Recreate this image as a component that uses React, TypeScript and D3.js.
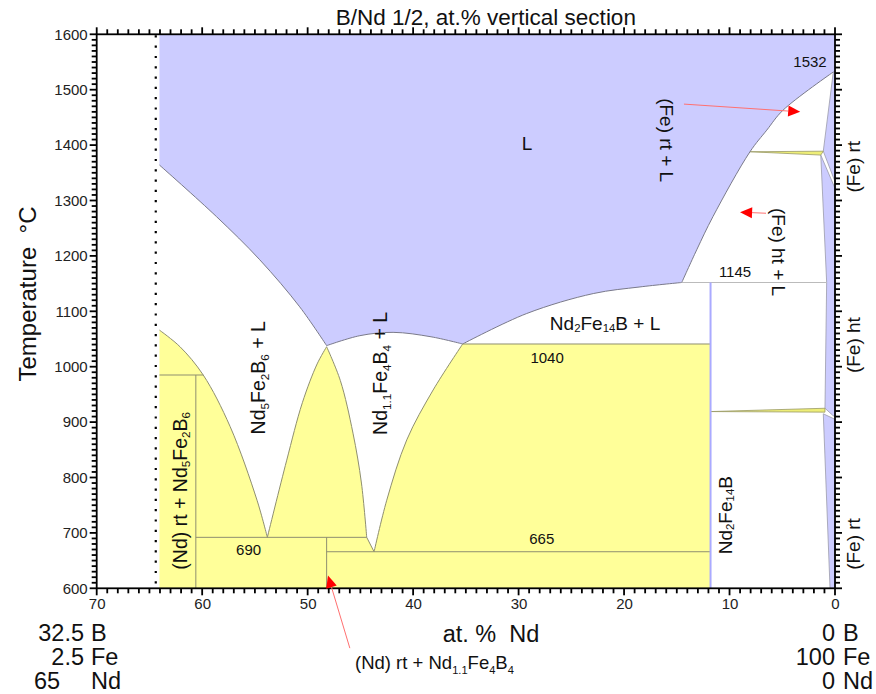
import { useEffect, useRef } from "react";
import * as d3 from "d3";

type Pt = [number, number];

// axis ticks (at.% Nd, °C)
const xTicks = [70, 60, 50, 40, 30, 20, 10, 0];
const yTicks = [600, 700, 800, 900, 1000, 1100, 1200, 1300, 1400, 1500, 1600];

// phase boundaries: [at.% Nd, T °C]
const liquidusLeft: Pt[] = [[64.05, 1364], [58.65, 1271], [54.54, 1193], [50.75, 1108], [48.2, 1038]];
const liquidusDome: Pt[] = [[48.2, 1038], [45.05, 1056], [41.9, 1062], [38.3, 1054], [35.3, 1041]];
const liquidusNd2Fe14B: Pt[] = [[35.3, 1041], [29.23, 1096], [22.92, 1132], [18.49, 1144], [14.53, 1152]];
const liquidusFe: Pt[] = [[14.53, 1152], [13.11, 1211], [11.57, 1271], [8.06, 1388], [6.47, 1427], [4.93, 1463], [0.16, 1532]];

const domeA: Pt[] = [[64.05, 1066], [62.1, 1036], [59.9, 985], [57.35, 892], [54.8, 759], [53.82, 692]];
const domeBLeft: Pt[] = [[53.82, 692], [52.0, 830], [50.5, 935], [49.1, 1005], [48.2, 1036]];
const domeBRight: Pt[] = [[48.2, 1036], [46.9, 975], [45.7, 880], [44.9, 790], [44.4, 692]];
const domeC: Pt[] = [[43.7, 666], [42.5, 759], [40.6, 868], [38.1, 958], [35.3, 1041]];

// tie lines / invariants
const invariants: Pt[][] = [
  [[64.05, 985], [59.9, 985]],
  [[60.6, 985], [60.6, 600]],
  [[60.6, 692], [44.4, 692]],
  [[44.4, 692], [43.7, 666]],
  [[48.2, 692], [48.2, 600]],
  [[48.2, 666], [11.8, 666]],
  [[35.3, 1041], [11.8, 1041]],
];
const peritectic1145: Pt[] = [[14.53, 1152], [0.79, 1152]];
const nd2fe14bLine: Pt[] = [[11.8, 1152], [11.8, 600]];

// (Fe) side
const feRtHigh: Pt[] = [[0.16, 1532], [1.11, 1389], [0, 1334], [0, 1532]];
const feHt: Pt[] = [[1.35, 1382], [0.79, 1152], [0.95, 925], [0.2, 912], [0, 910], [0, 1322]];
const feRtLow: Pt[] = [[1.11, 915], [0.47, 600], [0, 600], [0, 905]];
const sliverHigh: Pt[] = [[8.06, 1388], [1.11, 1389], [1.35, 1382]];
const sliverLow: Pt[] = [[11.8, 919], [0.95, 925], [0.95, 918]];

const dottedX = 64.4;

// labels: text with _{sub}, position (at.% Nd, °C), rotation
const labels = [
  { text: "L", x: 29.2, t: 1404, rot: 0, size: 19 },
  { text: "Nd_{2}Fe_{14}B + L", x: 21.8, t: 1079, rot: 0, size: 19 },
  { text: "1532", x: 2.37, t: 1552, rot: 0, size: 15 },
  { text: "1145", x: 9.48, t: 1173, rot: 0, size: 15 },
  { text: "1040", x: 27.3, t: 1017, rot: 0, size: 15 },
  { text: "665", x: 27.8, t: 691, rot: 0, size: 15 },
  { text: "690", x: 55.6, t: 671, rot: 0, size: 15 },
  { text: "(Nd) rt + Nd_{5}Fe_{2}B_{6}", x: 62.1, t: 776, rot: -90, size: 19.5 },
  { text: "Nd_{5}Fe_{2}B_{6} + L", x: 54.7, t: 980, rot: -90, size: 19.5 },
  { text: "Nd_{1.1}Fe_{4}B_{4} + L", x: 43.1, t: 988, rot: -90, size: 19.5 },
  { text: "Nd_{2}Fe_{14}B", x: 10.43, t: 732, rot: -90, size: 19 },
  { text: "(Fe) rt + L", x: 15.93, t: 1409, rot: 90, size: 19 },
  { text: "(Fe) ht + L", x: 5.31, t: 1207, rot: 90, size: 19 },
];
const sideLabels = [
  { text: "(Fe) rt", t: 1361 },
  { text: "(Fe) ht", t: 1039 },
  { text: "(Fe) rt", t: 680 },
];

// red arrows: from -> to
const arrows: [Pt, Pt][] = [
  [[14.32, 1474], [3.3, 1460]],
  [[6.54, 1277], [9.0, 1279]],
  [[46.0, 492], [48.07, 623]],
];

const leftComp = [["32.5", "B"], ["2.5", "Fe"], ["65", "Nd"]];
const rightComp = [["0", "B"], ["100", "Fe"], ["0", "Nd"]];

const FONT = "'Liberation Sans', Arial, sans-serif";
const BLUE = "#ccccff";
const YELLOW = "#ffff99";

function addRich(sel: any, text: string, size: number) {
  const parts = text.split(/(_\{[^}]*\})/).filter((p) => p.length);
  let shifted = false;
  parts.forEach((p) => {
    if (p.startsWith("_{")) {
      sel.append("tspan").attr("font-size", size * 0.6).attr("dy", size * 0.28).text(p.slice(2, -1));
      shifted = true;
    } else {
      const ts = sel.append("tspan").text(p);
      if (shifted) ts.attr("dy", -size * 0.28);
      shifted = false;
    }
  });
}

function App() {
  const svgRef = useRef<SVGSVGElement>(null);

  useEffect(() => {
    document.body.style.margin = "0";
    const svg = d3.select(svgRef.current);
    svg.selectAll("*").remove();

    const x = d3.scaleLinear().domain([70, 0]).range([96.7, 835]);
    const y = d3.scaleLinear().domain([600, 1600]).range([588.3, 34.3]);

    const line = d3.line<Pt>().x((d) => x(d[0])).y((d) => y(d[1]));
    const curve = d3
      .line<Pt>()
      .x((d) => x(d[0]))
      .y((d) => y(d[1]))
      .curve(d3.curveCatmullRom.alpha(0.5));
    const join = (...parts: string[]) =>
      parts.map((p, i) => (i === 0 ? p : p.replace(/^M/, "L"))).join("") + "Z";

    const g = svg.append("g");

    // liquid
    g.append("path")
      .attr(
        "d",
        join(
          line([[64.05, 1600], [64.05, 1364]])!,
          curve(liquidusLeft)!,
          curve(liquidusDome)!,
          curve(liquidusNd2Fe14B)!,
          curve(liquidusFe)!,
          line([[0.16, 1532], [0, 1532], [0, 1600]])!
        )
      )
      .attr("fill", BLUE);

    // three-phase field
    g.append("path")
      .attr(
        "d",
        join(
          line([[64.05, 600], [64.05, 1066]])!,
          curve(domeA)!,
          curve(domeBLeft)!,
          curve(domeBRight)!,
          line([[44.4, 692], [43.7, 666]])!,
          curve(domeC)!,
          line([[35.3, 1041], [11.8, 1041], [11.8, 600]])!
        )
      )
      .attr("fill", YELLOW);

    // (Fe) single-phase strips
    [feRtHigh, feHt, feRtLow].forEach((p) =>
      g.append("path").attr("d", line(p) + "Z").attr("fill", BLUE).attr("stroke", "#9a9aaa").attr("stroke-width", 0.8)
    );
    [sliverHigh, sliverLow].forEach((p) =>
      g.append("path").attr("d", line(p) + "Z").attr("fill", "#eeee77").attr("stroke", "#999966").attr("stroke-width", 0.8)
    );

    // boundaries
    [liquidusLeft, liquidusDome, liquidusNd2Fe14B, liquidusFe].forEach((c) =>
      g.append("path").attr("d", curve(c)).attr("fill", "none").attr("stroke", "#7a7a8a").attr("stroke-width", 1)
    );
    [domeA, domeBLeft, domeBRight, domeC].forEach((c) =>
      g.append("path").attr("d", curve(c)).attr("fill", "none").attr("stroke", "#8f8f70").attr("stroke-width", 1)
    );
    invariants.forEach((c) =>
      g.append("path").attr("d", line(c)).attr("fill", "none").attr("stroke", "#8f8f70").attr("stroke-width", 1)
    );
    g.append("path").attr("d", line(peritectic1145)).attr("stroke", "#bbbbbb").attr("stroke-width", 1.2);
    g.append("path").attr("d", line(nd2fe14bLine)).attr("stroke", "#aaaaff").attr("stroke-width", 2);

    // dotted composition limit
    g.append("line")
      .attr("x1", x(dottedX))
      .attr("x2", x(dottedX))
      .attr("y1", y(1600) + 1)
      .attr("y2", y(600))
      .attr("stroke", "#000")
      .attr("stroke-width", 2.2)
      .attr("stroke-dasharray", "2.2 8.1");

    // ticks on every side (major every 100 °C / 10 at.%, minor every 10 °C / 1 at.%)
    const minorY = d3.range(600, 1601, 10);
    const minorX = d3.range(0, 71, 1);
    const majorLen = 7, minorLen = 5;
    const ticks = svg.append("g").attr("fill", "#000");
    minorY.forEach((v) => {
      const len = v % 100 === 0 ? majorLen : minorLen;
      ticks.append("rect").attr("x", x(70) - len).attr("y", y(v) - 0.9).attr("width", len).attr("height", 1.8);
      ticks.append("rect").attr("x", x(0)).attr("y", y(v) - 0.9).attr("width", len).attr("height", 1.8);
    });
    minorX.forEach((v) => {
      const len = v % 10 === 0 ? majorLen : minorLen;
      ticks.append("rect").attr("x", x(v) - 0.9).attr("y", y(600)).attr("width", 1.8).attr("height", len);
      ticks.append("rect").attr("x", x(v) - 0.9).attr("y", y(1600) - len).attr("width", 1.8).attr("height", len);
    });

    // tick labels through d3 axes
    const axisGroup = (tx: number, ty: number, ax: any) => {
      const a = svg.append("g").attr("transform", `translate(${tx},${ty})`).call(ax);
      a.selectAll(".domain").remove();
      a.selectAll(".tick line").remove();
      a.selectAll("text").attr("font-family", FONT).attr("font-size", 15).attr("fill", "#222");
      return a;
    };
    axisGroup(x(70), 0, d3.axisLeft(y).tickValues(yTicks).tickSize(7).tickPadding(2).tickFormat(d3.format("d")));
    axisGroup(0, y(600), d3.axisBottom(x).tickValues(xTicks).tickSize(7).tickPadding(3).tickFormat(d3.format("d")));

    svg
      .append("rect")
      .attr("x", x(70))
      .attr("y", y(1600))
      .attr("width", x(0) - x(70))
      .attr("height", y(600) - y(1600))
      .attr("fill", "none")
      .attr("stroke", "#000")
      .attr("stroke-width", 1.8);

    // red arrows
    arrows.forEach(([a, b]) => {
      const x1 = x(a[0]), y1 = y(a[1]), x2 = x(b[0]), y2 = y(b[1]);
      const ang = Math.atan2(y2 - y1, x2 - x1);
      const L = 12, hw = 5.5;
      const bx = x2 - L * Math.cos(ang), by = y2 - L * Math.sin(ang);
      svg.append("line").attr("x1", x1).attr("y1", y1).attr("x2", bx).attr("y2", by)
        .attr("stroke", "#ff7070").attr("stroke-width", 1);
      svg.append("path")
        .attr("d", `M${x2},${y2}L${bx - hw * Math.sin(ang)},${by + hw * Math.cos(ang)}L${bx + hw * Math.sin(ang)},${by - hw * Math.cos(ang)}Z`)
        .attr("fill", "#ff0000");
    });

    // in-plot labels
    labels.forEach((l) => {
      const t = svg
        .append("text")
        .attr("transform", `translate(${x(l.x)},${y(l.t)}) rotate(${l.rot})`)
        .attr("text-anchor", "middle")
        .attr("dominant-baseline", "central")
        .attr("font-family", FONT)
        .attr("font-size", l.size)
        .attr("fill", "#111");
      addRich(t, l.text, l.size);
    });
    sideLabels.forEach((l) => {
      svg
        .append("text")
        .attr("transform", `translate(${x(0) + 18},${y(l.t)}) rotate(-90)`)
        .attr("text-anchor", "middle")
        .attr("dominant-baseline", "central")
        .attr("font-family", FONT)
        .attr("font-size", 19)
        .attr("fill", "#111")
        .text(l.text);
    });

    // titles
    svg.append("text")
      .attr("x", (x(70) + x(0)) / 2 + 20)
      .attr("y", 25)
      .attr("text-anchor", "middle")
      .attr("font-family", FONT)
      .attr("font-size", 22.5)
      .attr("fill", "#111")
      .text("B/Nd 1/2, at.% vertical section");
    svg.append("text")
      .attr("transform", `translate(27,294) rotate(-90)`)
      .attr("text-anchor", "middle")
      .attr("dominant-baseline", "central")
      .attr("font-family", FONT)
      .attr("font-size", 24)
      .attr("fill", "#111")
      .attr("xml:space", "preserve")
      .text("Temperature  °C");
    svg.append("text")
      .attr("x", 491)
      .attr("y", 642)
      .attr("text-anchor", "middle")
      .attr("font-family", FONT)
      .attr("font-size", 23.5)
      .attr("fill", "#111")
      .attr("xml:space", "preserve")
      .text("at. %  Nd");
    const note = svg.append("text")
      .attr("x", 355)
      .attr("y", 669)
      .attr("font-family", FONT)
      .attr("font-size", 18.5)
      .attr("fill", "#111");
    addRich(note, "(Nd) rt + Nd_{1.1}Fe_{4}B_{4}", 18.5);

    // composition end-points
    leftComp.forEach(([n, el], i) => {
      const ty = 641 + i * 24;
      const last = i === leftComp.length - 1;
      svg.append("text").attr("x", last ? 34 : 84).attr("y", ty).attr("text-anchor", last ? "start" : "end")
        .attr("font-family", FONT).attr("font-size", 23.5).attr("fill", "#111").text(n);
      svg.append("text").attr("x", 91).attr("y", ty)
        .attr("font-family", FONT).attr("font-size", 23.5).attr("fill", "#111").text(el);
    });
    rightComp.forEach(([n, el], i) => {
      const ty = 641 + i * 24;
      svg.append("text").attr("x", 835).attr("y", ty).attr("text-anchor", "end")
        .attr("font-family", FONT).attr("font-size", 23.5).attr("fill", "#111").text(n);
      svg.append("text").attr("x", 843).attr("y", ty)
        .attr("font-family", FONT).attr("font-size", 23.5).attr("fill", "#111").text(el);
    });
  }, []);

  return <svg ref={svgRef} width={876} height={694} style={{ display: "block", background: "#fff" }} />;
}

export default App;
